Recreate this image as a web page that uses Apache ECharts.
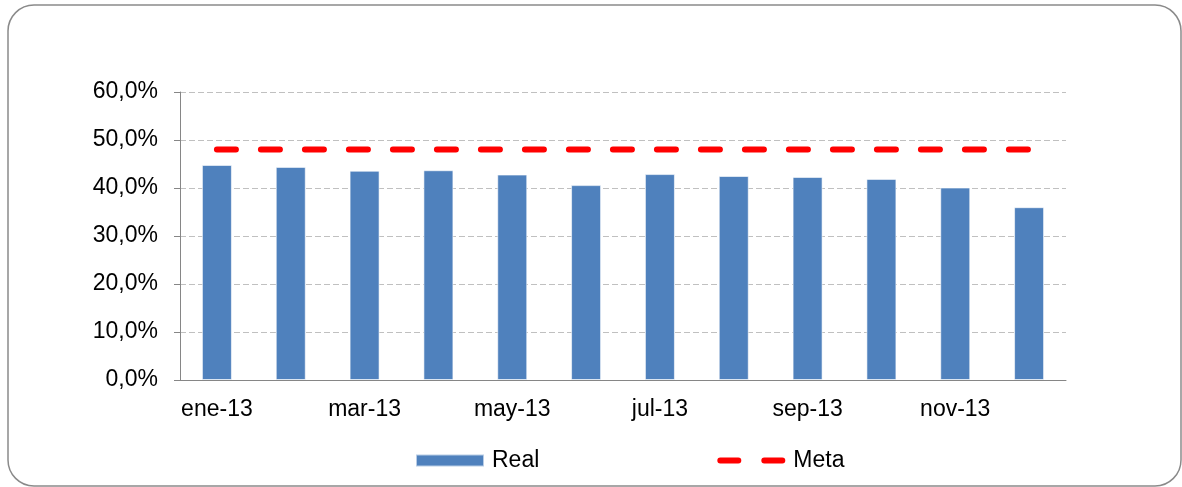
<!DOCTYPE html>
<html>
<head>
<meta charset="utf-8">
<script src="https://cdn.jsdelivr.net/npm/echarts@6/dist/echarts.min.js"></script>
<style>
  html, body { margin: 0; padding: 0; background: #fff; }
  #main { width: 1182px; height: 487px; }
</style>
</head>
<body>
<div id="main"></div>
<script>
// meses
const categories = ['ene-13', 'feb-13', 'mar-13', 'abr-13', 'may-13', 'jun-13',
  'jul-13', 'ago-13', 'sep-13', 'oct-13', 'nov-13', 'dic-13']
// valores en %
const realValues = [44.8, 44.4, 43.6, 43.7, 42.8, 40.6, 42.9, 42.5, 42.3, 41.9, 40.1, 36.0]
const metaValues = [48, 48, 48, 48, 48, 48, 48, 48, 48, 48, 48, 48]
const yTicks = { min: 0, max: 60, interval: 10 }

const font = '"Liberation Sans", Arial, sans-serif'
// icono de leyenda: dos trazos redondeados
const dashIcon = 'path://M0,0 M3,3 H21 A3,3 0 0 1 21,9 H3 A3,3 0 0 1 3,3 Z ' +
  'M47,3 H65 A3,3 0 0 1 65,9 H47 A3,3 0 0 1 47,3 Z M68,12'

let myChart = echarts.init(document.getElementById('main'))
let option = {
  animation: false,
  textStyle: { fontFamily: font },
  graphic: [
    {
      type: 'rect',
      shape: { x: 8, y: 5, width: 1173, height: 481, r: 26 },
      style: { fill: 'none', stroke: '#8a8a8a', lineWidth: 1.5 },
      silent: true
    }
  ],
  grid: { left: 180, right: 116, top: 92, bottom: 107 },
  legend: {
    left: 415,
    top: 449,
    padding: 0,
    itemWidth: 68,
    itemHeight: 12,
    itemGap: 178,
    textStyle: { fontSize: 23, color: '#000', fontFamily: font, padding: [0, 0, 0, 3] },
    data: [
      { name: 'Real', icon: 'rect' },
      { name: 'Meta', icon: dashIcon, itemStyle: { color: '#FF0000' } }
    ]
  },
  xAxis: {
    type: 'category',
    data: categories,
    axisLine: { lineStyle: { color: '#868686', width: 1 } },
    axisTick: { interval: 1, length: 6, lineStyle: { color: '#868686' } },
    axisLabel: { interval: 1, fontSize: 23, color: '#000', margin: 18 }
  },
  yAxis: {
    type: 'value',
    min: yTicks.min,
    max: yTicks.max,
    interval: yTicks.interval,
    axisLine: { show: true, lineStyle: { color: '#868686', width: 1 } },
    axisTick: { show: true, length: 6, lineStyle: { color: '#868686' } },
    axisLabel: {
      fontSize: 23,
      color: '#000',
      margin: 22,
      formatter: v => v.toFixed(1).replace('.', ',') + '%'
    },
    splitLine: { lineStyle: { color: '#c0c0c0', type: [6, 3], width: 1 } }
  },
  series: [
    {
      name: 'Real',
      type: 'bar',
      barWidth: 30,
      itemStyle: { color: '#4F81BD', borderColor: 'rgba(255,255,255,0.6)', borderWidth: 1 },
      data: realValues
    },
    {
      name: 'Meta',
      type: 'line',
      symbol: 'none',
      z: 5,
      itemStyle: { color: '#FF0000' },
      lineStyle: { color: '#FF0000', width: 6, type: [19, 25], cap: 'round' },
      data: metaValues
    }
  ]
}
myChart.setOption(option)
</script>
</body>
</html>
